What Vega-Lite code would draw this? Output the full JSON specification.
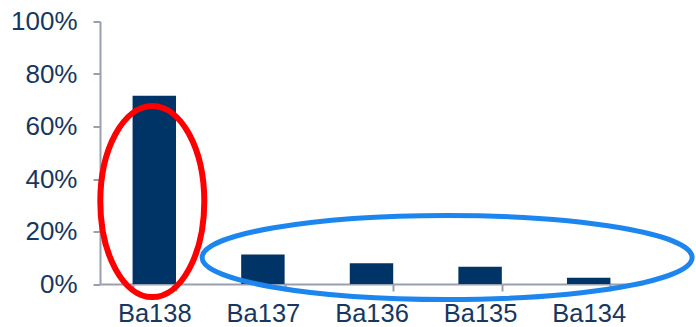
{
  "$schema": "https://vega.github.io/schema/vega-lite/v6.json",
  "width": 543,
  "height": 262.5,
  "autosize": {"type": "none"},
  "padding": {"left": 100, "top": 21.5, "right": 53, "bottom": 43},
  "background": "white",
  "config": {"view": {"stroke": null}, "font": "Liberation Sans"},
  "layer": [
    {
      "data": {"values": [
        {"isotope": "Ba138", "abundance": 0.717},
        {"isotope": "Ba137", "abundance": 0.112},
        {"isotope": "Ba136", "abundance": 0.079},
        {"isotope": "Ba135", "abundance": 0.066},
        {"isotope": "Ba134", "abundance": 0.024}
      ]},
      "mark": {"type": "bar", "color": "#003366"},
      "encoding": {
        "x": {
          "field": "isotope", "type": "nominal", "sort": null,
          "scale": {"domain": ["Ba138", "Ba137", "Ba136", "Ba135", "Ba134"], "paddingInner": 0.6, "paddingOuter": 0.3},
          "axis": {"title": null, "labelAngle": 0, "grid": false, "tickBand": "extent",
            "domainColor": "#9A9FB0", "domainWidth": 2, "tickColor": "#9A9FB0", "tickWidth": 2, "tickSize": 7,
            "labelFontSize": 25.5, "labelColor": "#17375E", "labelPadding": 10.5, "labelFont": "Liberation Sans"}
        },
        "y": {
          "field": "abundance", "type": "quantitative",
          "scale": {"domain": [0, 1]},
          "axis": {"title": null, "grid": false, "values": [0, 0.2, 0.4, 0.6, 0.8, 1], "format": ".0%",
            "domainColor": "#9A9FB0", "domainWidth": 2, "tickColor": "#9A9FB0", "tickWidth": 2, "tickSize": 7,
            "labelFontSize": 26, "labelColor": "#17375E", "labelPadding": 16, "labelFont": "Liberation Sans"}
        }
      }
    },
    {
      "data": {"values": [{"isotope": "Ba138", "abundance": 0.314}]},
      "mark": {"type": "point", "filled": false, "opacity": 1, "stroke": "#FF0000", "strokeWidth": 6, "size": 40000,
        "shape": "M 0.5,0 C 0.5,0.5274 0.2672,0.955 -0.02,0.955 C -0.3072,0.955 -0.54,0.5274 -0.54,0 C -0.54,-0.5274 -0.3072,-0.955 -0.02,-0.955 C 0.2672,-0.955 0.5,-0.5274 0.5,0 Z"},
      "encoding": {
        "x": {"field": "isotope", "type": "nominal", "sort": null},
        "y": {"field": "abundance", "type": "quantitative"}
      }
    },
    {
      "data": {"values": [{"isotope": "Ba135", "abundance": 0.101}]},
      "mark": {"type": "point", "filled": false, "opacity": 1, "stroke": "#1C86EE", "strokeWidth": 5, "size": 250000,
        "shape": "M 0.848,0 C 0.848,0.0928 0.4093,0.168 -0.132,0.168 C -0.6733,0.168 -1.112,0.0928 -1.112,0 C -1.112,-0.0928 -0.6733,-0.168 -0.132,-0.168 C 0.4093,-0.168 0.848,-0.0928 0.848,0 Z"},
      "encoding": {
        "x": {"field": "isotope", "type": "nominal", "sort": null},
        "y": {"field": "abundance", "type": "quantitative"}
      }
    }
  ]
}
